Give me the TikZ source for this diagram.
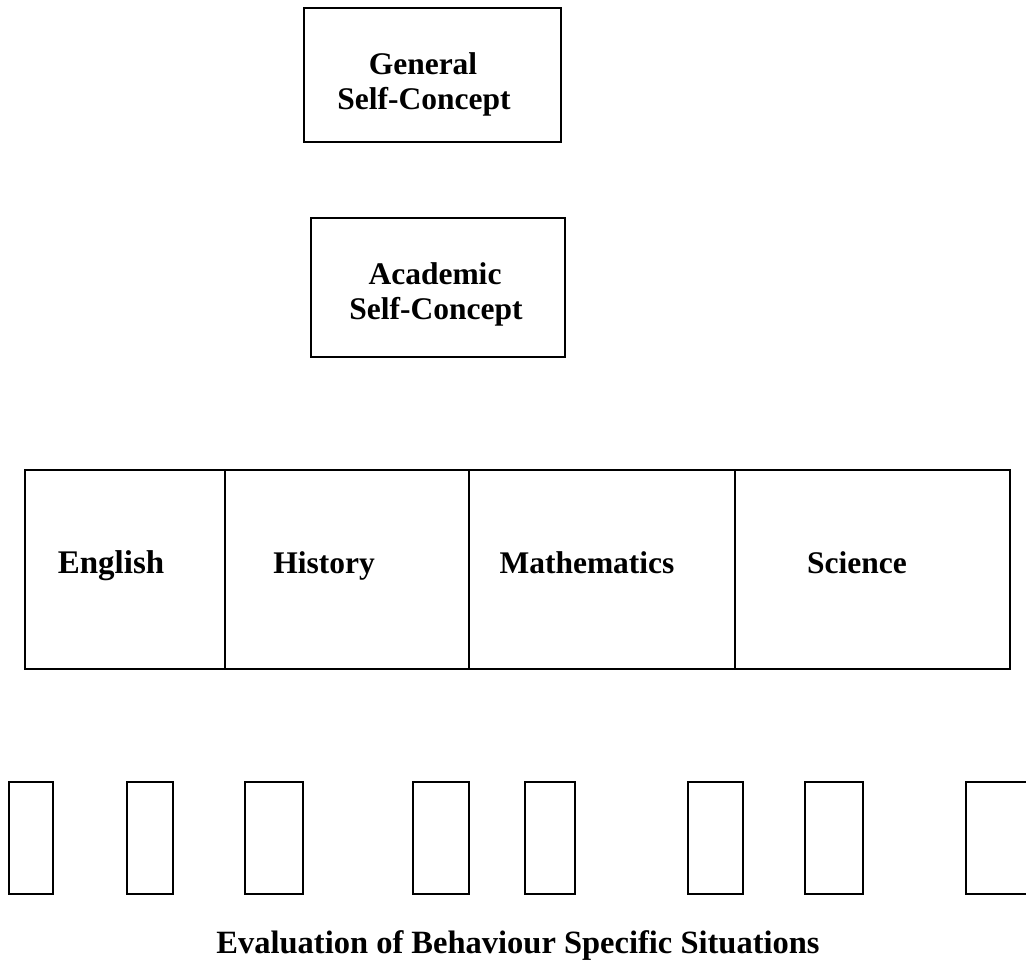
\documentclass[tikz,border=0pt]{standalone}
\usepackage{fontspec}
\setmainfont{Liberation Serif}
\begin{document}
\begin{tikzpicture}[x=1pt,y=-1pt,
  frame/.style={draw=black,line width=1.5pt,fill=none,inner sep=0pt,outer sep=0pt},
  lbl/.style={font=\fontsize{31.5}{35}\selectfont\bfseries,inner sep=0pt,anchor=base},
  bar/.style={frame}]
\clip (0,0) rectangle (1026,973);
% top boxes
\node[frame,minimum width=257pt,minimum height=134pt,anchor=north west] (gen) at (304,8) {};
\node[lbl] (gent1) at (423,75) {General};
\node[lbl] (gent2) at (424,110) {Self-Concept};
\node[frame,minimum width=254pt,minimum height=139pt,anchor=north west] (acad) at (311,218) {};
\node[lbl] (acat1) at (435,285) {Academic};
\node[lbl] (acat2) at (436,320) {Self-Concept};
% subject row
\node[frame,minimum width=200pt,minimum height=199pt,anchor=north west] (eng) at (25,470) {};
\node[frame,minimum width=244pt,minimum height=199pt,anchor=north west] (his) at (225,470) {};
\node[frame,minimum width=266pt,minimum height=199pt,anchor=north west] (mat) at (469,470) {};
\node[frame,minimum width=275pt,minimum height=199pt,anchor=north west] (sci) at (735,470) {};
\node[lbl,font=\fontsize{33}{35}\selectfont\bfseries] (engt) at (111,573) {English};
\node[lbl] (hist) at (324,573) {History};
\node[lbl] (matt) at (587,573) {Mathematics};
\node[lbl] (scit) at (857,573) {Science};
% small rectangles
\node[bar,minimum width=44pt,minimum height=112pt,anchor=north west] (b1) at (9,782) {};
\node[bar,minimum width=46pt,minimum height=112pt,anchor=north west] (b2) at (127,782) {};
\node[bar,minimum width=58pt,minimum height=112pt,anchor=north west] (b3) at (245,782) {};
\node[bar,minimum width=56pt,minimum height=112pt,anchor=north west] (b4) at (413,782) {};
\node[bar,minimum width=50pt,minimum height=112pt,anchor=north west] (b5) at (525,782) {};
\node[bar,minimum width=55pt,minimum height=112pt,anchor=north west] (b6) at (688,782) {};
\node[bar,minimum width=58pt,minimum height=112pt,anchor=north west] (b7) at (805,782) {};
\node[bar,minimum width=80pt,minimum height=112pt,anchor=north west] (b8) at (966,782) {};
% caption
\node[lbl,font=\fontsize{32.5}{35}\selectfont\bfseries] (cap) at (518,953) {Evaluation of Behaviour Specific Situations};
\end{tikzpicture}
\end{document}
